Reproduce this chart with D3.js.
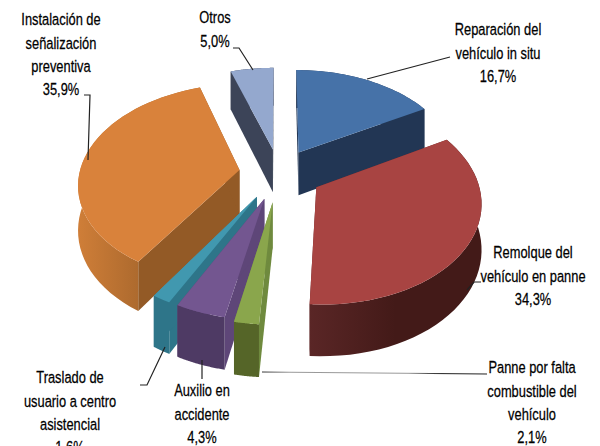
<!DOCTYPE html>
<html>
<head>
<meta charset="utf-8">
<script src="https://cdn.jsdelivr.net/npm/d3@7"></script>
<style>
  html, body { margin: 0; padding: 0; background: #fff; overflow: hidden; }
  text { font-family: "Liberation Sans", sans-serif; }
</style>
</head>
<body>
<svg id="chart"></svg>
<script>
// Values
const categories = ["Reparación del vehículo in situ", "Remolque del vehículo en panne",
  "Panne por falta combustible del vehículo", "Auxilio en accidente",
  "Traslado de usuario a centro asistencial", "Instalación de señalización preventiva", "Otros"];
const shares = [16.7, 34.3, 2.1, 4.3, 1.6, 35.9, 5.0];
const shareLabels = ["16,7%", "34,3%", "2,1%", "4,3%", "1,6%", "35,9%", "5,0%"];

// Colours: top, radial wall, outer wall (left and right end)
const topColors = ["#4672a8", "#a84442", "#8aa64c", "#735690", "#4198af", "#d9823b", "#94a8ce"];
const wallColors = ["#223654", "#66282a", "#6f8a3e", "#5e4678", "#2e7589", "#935a26", "#3c4458"];
const rimLight = ["#223654", "#5a2626", "#556528", "#4e3a64", "#2e7589", "#cf7e38", "#3c4458"];
const rimDark = ["#223654", "#431a18", "#556528", "#4e3a64", "#2e7589", "#ad6a2e", "#3c4458"];

// Label lines and layout, by category
const labelLines = [
  ["Reparación del", "vehículo in situ"],
  ["Remolque del", "vehículo en panne"],
  ["Panne por falta", "combustible del", "vehículo"],
  ["Auxilio  en", "accidente"],
  ["Traslado de", "usuario a centro", "asistencial"],
  ["Instalación de", "señalización", "preventiva"],
  ["Otros"]
];
const labelX = [498, 533, 532, 202, 70, 61, 215];
const labelY = [30, 253, 368, 391, 378, 20, 18];
const leaders = [
  [[367, 79], [450, 57]],
  [[467, 290], [474, 282], [481, 282]],
  [[262, 372], [487, 374]],
  [[202, 360], [202, 379]],
  [[165, 347], [147, 385], [140, 385]],
  [[88, 160], [90, 95], [84, 95]],
  [[253, 70], [239, 48], [233, 48]]
];

const width = 600, height = 446;
const cx = 279, cy = 173, rx = 160, ry = 98, depth = 44;
const explodeBy = [0.25, 0.27, 0.29, 0.27, 0.27, 0.25, 0.25];
const persp = 0.13;

const svg = d3.select("#chart").attr("width", width).attr("height", height)
  .style("display", "block");
const defs = svg.append("defs");

// Ground plane to screen, with a bit of perspective
function project(gx, gy, z) {
  const s = 1 / (1 - persp * gy);
  return [cx + rx * gx * s, cy + ry * gy * s + z * s];
}

const arcs = d3.pie().sort(null).startAngle(0).endAngle(2 * Math.PI)(shares);
const line = d3.line();
const drawOrder = [6, 0, 5, 4, 3, 2, 1];

const slices = arcs.map(function (a, i) {
  const mid = (a.startAngle + a.endAngle) / 2;
  const ox = explodeBy[i] * Math.sin(mid), oy = -explodeBy[i] * Math.cos(mid);
  const angles = d3.range(0, 41).map(k => a.startAngle + (a.endAngle - a.startAngle) * k / 40);
  const rim = z => angles.map(t => project(ox + Math.sin(t), oy - Math.cos(t), z));
  const apex = z => project(ox, oy, z);
  return { a, rim, apex };
});

drawOrder.forEach(function (i) {
  const s = slices[i];
  const g = svg.append("g");
  const rimTop = s.rim(0), rimBottom = s.rim(depth);
  const wall = (p) => [s.apex(0), p[0], p[1], s.apex(depth)];

  // Outer wall shading runs left to right
  const xs = d3.extent(rimBottom, p => p[0]);
  const grad = defs.append("linearGradient")
    .attr("id", "rim" + i)
    .attr("gradientUnits", "userSpaceOnUse")
    .attr("x1", xs[0]).attr("x2", xs[1]).attr("y1", 0).attr("y2", 0);
  grad.append("stop").attr("offset", 0).attr("stop-color", rimLight[i]);
  grad.append("stop").attr("offset", 0.5).attr("stop-color", rimDark[i]);

  g.append("path")
    .attr("d", line(wall([rimTop[0], rimBottom[0]])) + "Z").attr("fill", wallColors[i]);
  g.append("path")
    .attr("d", line(wall([rimTop[40], rimBottom[40]])) + "Z").attr("fill", wallColors[i]);
  g.append("path")
    .attr("d", line(rimTop.concat(rimBottom.slice().reverse())) + "Z").attr("fill", "url(#rim" + i + ")");
  g.append("path")
    .attr("d", line([s.apex(0)].concat(rimTop)) + "Z").attr("fill", topColors[i]);
});

// The long leader fades to grey in its middle part
const fade = defs.append("linearGradient").attr("id", "fade");
fade.append("stop").attr("offset", 0).attr("stop-color", "#333");
fade.append("stop").attr("offset", 0.12).attr("stop-color", "#999");
fade.append("stop").attr("offset", 0.65).attr("stop-color", "#999");
fade.append("stop").attr("offset", 0.8).attr("stop-color", "#222");

// Leader lines
svg.selectAll(".leader").data(leaders).enter().append("path")
  .attr("class", "leader")
  .attr("d", d => line(d))
  .attr("fill", "none")
  .attr("stroke", (d, i) => i === 2 ? "url(#fade)" : "#222")
  .attr("stroke-width", 1.2);

// Labels, name lines then the share. No narrow face installed, so squeeze it.
categories.forEach(function (c, i) {
  const t = svg.append("text")
    .attr("transform", "translate(" + labelX[i] + ",0) scale(0.78,1)")
    .attr("text-anchor", "middle")
    .attr("font-size", 16.5)
    .attr("fill", "#000")
    .attr("stroke", "#000")
    .attr("stroke-width", 0.25);
  labelLines[i].concat(shareLabels[i]).forEach(function (l, j) {
    t.append("tspan")
      .attr("x", 0)
      .attr("y", labelY[i] + 23.3 * j + 5.5)
      .text(l);
  });
});
</script>
</body>
</html>
